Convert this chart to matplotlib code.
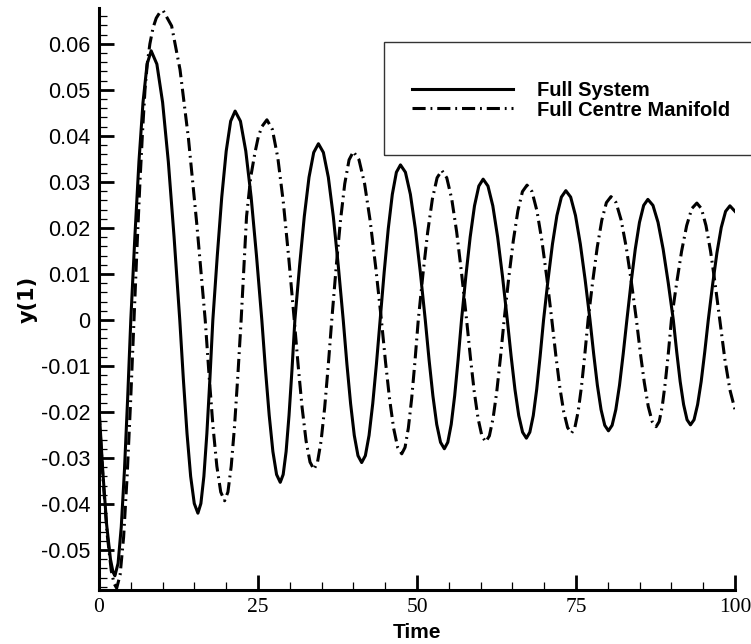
import numpy as np
import matplotlib.pyplot as plt
from matplotlib.patches import Rectangle

# Full System, y(1) against time
t_full = [0, 0.6, 1.2, 1.8, 2.2, 2.5,
          3.0, 3.5, 4.0, 4.5, 5.0, 5.64, 6.28, 6.92, 7.56, 8.2,
          9.1, 10.0, 10.9, 11.8, 12.7, 13.27, 13.84, 14.41, 14.98, 15.55,
          16.02, 16.49, 16.96, 17.43, 17.9, 18.6, 19.3, 20.0, 20.7, 21.4,
          22.24, 23.08, 23.92, 24.76, 25.6, 26.18, 26.76, 27.34, 27.92, 28.5,
          28.96, 29.42, 29.88, 30.34, 30.8, 31.54, 32.28, 33.02, 33.76, 34.5,
          35.28, 36.06, 36.84, 37.62, 38.4, 38.98, 39.56, 40.14, 40.72, 41.3,
          41.88, 42.46, 43.04, 43.62, 44.2, 44.84, 45.48, 46.12, 46.76, 47.4,
          48.18, 48.96, 49.74, 50.52, 51.3, 51.9, 52.5, 53.1, 53.7, 54.3,
          54.84, 55.38, 55.92, 56.46, 57.0, 57.68, 58.36, 59.04, 59.72, 60.4,
          61.16, 61.92, 62.68, 63.44, 64.2, 64.8, 65.4, 66.0, 66.6, 67.2,
          67.74, 68.28, 68.82, 69.36, 69.9, 70.6, 71.3, 72.0, 72.7, 73.4,
          74.16, 74.92, 75.68, 76.44, 77.2, 77.78, 78.36, 78.94, 79.52, 80.1,
          80.68, 81.26, 81.84, 82.42, 83.0, 83.66, 84.32, 84.98, 85.64, 86.3,
          87.1, 87.9, 88.7, 89.5, 90.3, 90.84, 91.38, 91.92, 92.46, 93.0,
          93.56, 94.12, 94.68, 95.24, 95.8, 96.48, 97.16, 97.84, 98.52, 99.2,
          100]
y_full = [-0.019, -0.033, -0.0445, -0.052, -0.0548, -0.0556,
          -0.0529, -0.0450, -0.0327, -0.0172, 0.0, 0.0181, 0.0344, 0.0473, 0.0556, 0.0585,
          0.0556, 0.0473, 0.0344, 0.0181, 0.0, -0.0130, -0.0247, -0.0340, -0.0399, -0.0420,
          -0.0399, -0.0340, -0.0247, -0.0130, 0.0, 0.0140, 0.0267, 0.0367, 0.0432, 0.0454,
          0.0432, 0.0367, 0.0267, 0.0140, 0.0, -0.0109, -0.0207, -0.0286, -0.0336, -0.0353,
          -0.0336, -0.0286, -0.0207, -0.0109, 0.0, 0.0118, 0.0225, 0.0310, 0.0364, 0.0383,
          0.0364, 0.0310, 0.0225, 0.0118, 0.0, -0.0096, -0.0182, -0.0251, -0.0295, -0.0310,
          -0.0295, -0.0251, -0.0182, -0.0096, 0.0, 0.0104, 0.0198, 0.0273, 0.0321, 0.0337,
          0.0321, 0.0273, 0.0198, 0.0104, 0.0, -0.0087, -0.0165, -0.0227, -0.0266, -0.0280,
          -0.0266, -0.0227, -0.0165, -0.0087, 0.0, 0.0095, 0.0180, 0.0248, 0.0291, 0.0306,
          0.0291, 0.0248, 0.0180, 0.0095, 0.0, -0.0079, -0.0151, -0.0208, -0.0244, -0.0257,
          -0.0244, -0.0208, -0.0151, -0.0079, 0.0, 0.0087, 0.0165, 0.0227, 0.0267, 0.0281,
          0.0267, 0.0227, 0.0165, 0.0087, 0.0, -0.0074, -0.0142, -0.0195, -0.0229, -0.0241,
          -0.0229, -0.0195, -0.0142, -0.0074, 0.0, 0.0081, 0.0154, 0.0212, 0.0249, 0.0262,
          0.0249, 0.0212, 0.0154, 0.0081, 0.0, -0.0070, -0.0134, -0.0184, -0.0217, -0.0228,
          -0.0217, -0.0184, -0.0134, -0.0070, 0.0, 0.0077, 0.0146, 0.0201, 0.0236, 0.0248,
          0.0236]

# Full Centre Manifold
t_cm = [0, 0.63, 1.28, 1.93, 2.37, 2.78,
        3.32, 3.87, 4.41, 4.96, 5.5, 6.0, 6.44, 6.85, 7.23, 7.6, 8.0, 8.5, 9.0, 9.5, 10.1,
        11.42, 12.74, 14.06, 15.38, 16.7, 17.31, 17.92, 18.53, 19.14, 19.75,
        20.27, 20.79, 21.31, 21.83, 22.35, 23.2, 23.85, 24.5, 25.05, 25.6, 26.4,
        27.26, 28.12, 28.98, 29.84, 30.7, 31.32, 31.94, 32.56, 33.18, 33.8,
        34.36, 34.92, 35.48, 36.04, 36.6, 37.28, 37.96, 38.64, 39.32, 40.0,
        40.88, 41.76, 42.64, 43.52, 44.4, 45.04, 45.68, 46.32, 46.96, 47.6,
        48.12, 48.64, 49.16, 49.68, 50.2, 50.94, 51.68, 52.42, 53.16, 53.9,
        54.68, 55.46, 56.24, 57.02, 57.8, 58.4, 59.0, 59.6, 60.2, 60.8,
        61.38, 61.96, 62.54, 63.12, 63.7, 64.42, 65.14, 65.86, 66.58, 67.3,
        68.08, 68.86, 69.64, 70.42, 71.2, 71.82, 72.44, 73.06, 73.68, 74.3,
        74.82, 75.34, 75.86, 76.38, 76.9, 77.62, 78.34, 79.06, 79.78, 80.5,
        81.3, 82.1, 82.9, 83.7, 84.5, 85.12, 85.74, 86.36, 86.98, 87.6,
        88.08, 88.56, 89.04, 89.52, 90.0, 90.8, 91.6, 92.4, 93.2, 94.0,
        94.72, 95.44, 96.16, 96.88, 97.6, 98.4, 99.2, 100]
y_cm = [-0.020, -0.0345, -0.0465, -0.0545, -0.0573, -0.0583,
        -0.0554, -0.0472, -0.0343, -0.0180, 0.0, 0.0165, 0.0300, 0.0410, 0.0500, 0.0558, 0.0600, 0.0635, 0.0656, 0.0667, 0.0672,
        0.0639, 0.0544, 0.0395, 0.0208, 0.0, -0.0121, -0.0231, -0.0318, -0.0374, -0.0393,
        -0.0374, -0.0318, -0.0231, -0.0121, 0.0, 0.0225, 0.0310, 0.0362, 0.0398, 0.0420, 0.0435,
        0.0414, 0.0352, 0.0256, 0.0134, 0.0, -0.0100, -0.0191, -0.0263, -0.0309, -0.0325,
        -0.0309, -0.0263, -0.0191, -0.0100, 0.0, 0.0113, 0.0215, 0.0296, 0.0348, 0.0366,
        0.0348, 0.0296, 0.0215, 0.0113, 0.0, -0.0090, -0.0171, -0.0235, -0.0277, -0.0291,
        -0.0277, -0.0235, -0.0171, -0.0090, 0.0, 0.0100, 0.0191, 0.0263, 0.0309, 0.0325,
        0.0309, 0.0263, 0.0191, 0.0100, 0.0, -0.0082, -0.0156, -0.0214, -0.0252, -0.0265,
        -0.0252, -0.0214, -0.0156, -0.0082, 0.0, 0.0091, 0.0172, 0.0237, 0.0279, 0.0293,
        0.0279, 0.0237, 0.0172, 0.0091, 0.0, -0.0076, -0.0145, -0.0199, -0.0234, -0.0246,
        -0.0234, -0.0199, -0.0145, -0.0076, 0.0, 0.0083, 0.0158, 0.0217, 0.0255, 0.0268,
        0.0255, 0.0217, 0.0158, 0.0083, 0.0, -0.0072, -0.0136, -0.0188, -0.0221, -0.0232,
        -0.0221, -0.0188, -0.0136, -0.0072, 0.0, 0.0078, 0.0149, 0.0205, 0.0242, 0.0254,
        0.0242, 0.0205, 0.0149, 0.0078, 0.0, -0.0085, -0.0152, -0.0195]

series_labels = ['Full System', 'Full Centre Manifold']
x_ticks = [0, 25, 50, 75, 100]
y_ticks = [-0.05, -0.04, -0.03, -0.02, -0.01, 0, 0.01, 0.02, 0.03, 0.04, 0.05, 0.06]
y_tick_labels = ['-0.05', '-0.04', '-0.03', '-0.02', '-0.01', '0',
                 '0.01', '0.02', '0.03', '0.04', '0.05', '0.06']

sans = 'Liberation Sans'
serif = 'Liberation Serif'

fig = plt.figure(figsize=(7.51, 6.44), dpi=100)
ax = fig.add_axes([99 / 751, 54 / 644, 636 / 751, 582 / 644])

ax.plot(t_full, y_full, color='black', lw=2.2, label=series_labels[0])
ax.plot(t_cm, y_cm, color='black', lw=2.2, linestyle=(0, (4.3, 1.6, 0.6, 1.6)),
        label=series_labels[1])

ax.set_xlim(0, 100)
ax.set_ylim(-0.0587, 0.0678)

for s in ['top', 'right']:
    ax.spines[s].set_visible(False)
for s in ['left', 'bottom']:
    ax.spines[s].set_linewidth(2.2)

ax.set_xticks(x_ticks)
ax.set_xticklabels([str(v) for v in x_ticks], fontfamily=serif, fontsize=15.5)
ax.set_xticks(np.arange(0, 101, 5), minor=True)
ax.set_yticks(y_ticks)
ax.set_yticklabels(y_tick_labels, fontfamily=sans, fontsize=15.5)
ax.set_yticks(np.arange(-0.058, 0.0679, 0.002), minor=True)

ax.tick_params(which='major', direction='in', length=10.5, width=2.0, pad=6)
ax.tick_params(which='minor', direction='in', length=6, width=0.9)

ax.set_xlabel('Time', fontfamily=sans, fontweight='bold', fontsize=15)
ax.xaxis.set_label_coords(0.5, -0.057)
ax.set_ylabel('y(1)', fontfamily='DejaVu Sans', fontweight='bold', fontsize=15)
ax.yaxis.set_label_coords(-0.097, 0.5)

# legend frame runs off the right edge of the figure
frame = Rectangle((384 / 751, (644 - 155) / 644), 400 / 751, 113 / 644,
                  transform=fig.transFigure, fill=False, edgecolor='#333333',
                  lw=1.0, clip_on=False)
fig.patches.append(frame)
fig.legend(loc='center left', bbox_to_anchor=(412 / 751, (644 - 100.5) / 644),
           frameon=False, borderpad=0, borderaxespad=0, handlelength=5.0,
           handletextpad=1.2, labelspacing=0.0,
           prop={'family': sans, 'weight': 'bold', 'size': 14.5})

fig.savefig('out.png', dpi=100)
